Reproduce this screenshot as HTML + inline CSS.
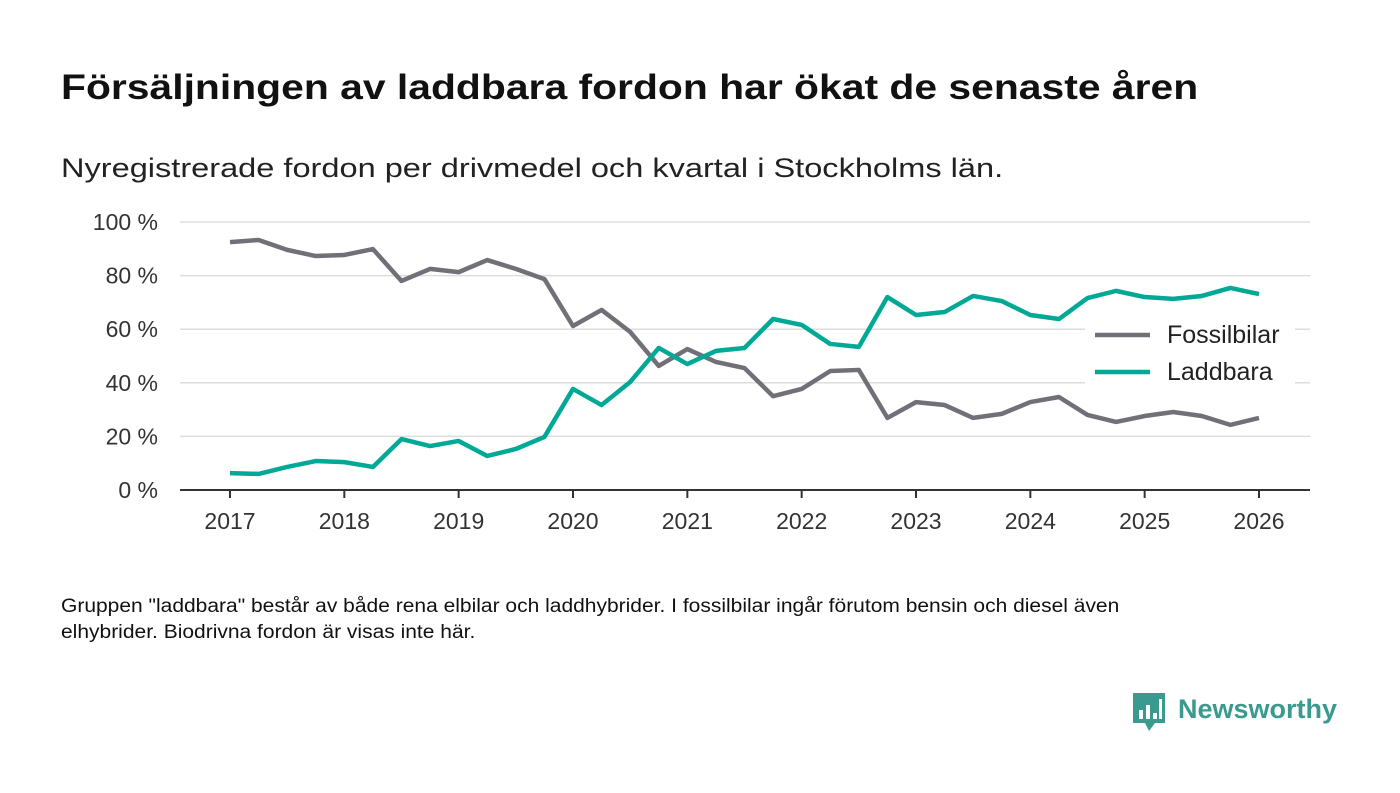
<!DOCTYPE html>
<html><head><meta charset="utf-8">
<style>
body{margin:0;background:#fff;font-family:"Liberation Sans",sans-serif;}
#wrap{position:relative;width:1400px;height:793px;overflow:hidden;}
.t{position:absolute;white-space:nowrap;transform-origin:0 0;}
</style></head>
<body>
<div id="wrap">
<div class="t" style="left:61px;top:68px;font-size:35px;font-weight:bold;color:#111;transform:scaleX(1.167);">Försäljningen av laddbara fordon har ökat de senaste åren</div>
<div class="t" style="left:61px;top:153px;font-size:27px;color:#222;transform:scaleX(1.205);">Nyregistrerade fordon per drivmedel och kvartal i Stockholms län.</div>
<svg id="chart" width="1400" height="793" style="position:absolute;left:0;top:0;"></svg>
<div class="t" style="left:61px;top:594px;font-size:19px;color:#111;line-height:26px;transform:scaleX(1.105);">Gruppen "laddbara" består av både rena elbilar och laddhybrider. I fossilbilar ingår förutom bensin och diesel även<br>elhybrider. Biodrivna fordon är visas inte här.</div>
<div style="position:absolute;left:1133px;top:693px;">
<svg width="34" height="40" style="position:absolute;left:0;top:0;"><path d="M0 0H32V30H22L16 38L12 30H0Z" fill="#3a9a8f"/><rect x="6" y="17" width="4" height="9" fill="#fff"/><rect x="13" y="12" width="4" height="14" fill="#fff"/><rect x="20" y="20" width="4" height="6" fill="#fff"/><rect x="26" y="6" width="3" height="20" fill="#fff"/></svg>
<div class="t" style="left:45px;top:1px;font-size:27px;font-weight:bold;color:#3a9a8f;">Newsworthy</div>
</div>
</div>
<script>
const years=[2017,2018,2019,2020,2021,2022,2023,2024,2025,2026];
const yTicks=[0,20,40,60,80,100];
const fossil=[92.5,93.3,89.6,87.3,87.7,89.9,78,82.5,81.3,85.8,82.5,78.7,61.2,67.2,59,46.3,52.6,47.8,45.5,35,37.7,44.4,44.8,26.9,32.8,31.7,26.9,28.4,32.8,34.7,28,25.4,27.6,29.1,27.6,24.3,26.9];
const laddbara=[6.3,6,8.6,10.8,10.4,8.6,19,16.4,18.3,12.7,15.3,19.8,37.7,31.7,40.3,53,47,51.9,53,63.8,61.6,54.5,53.4,72,65.3,66.4,72.4,70.5,65.3,63.8,71.6,74.3,72,71.3,72.4,75.4,73.1];
const NS="http://www.w3.org/2000/svg";
const svg=document.getElementById('chart');
const x=t=>230+(t-2017)*(1259-230)/9;
const y=v=>490-v*(490-222)/100;
function el(tag,attrs,parent){const e=document.createElementNS(NS,tag);for(const k in attrs)e.setAttribute(k,attrs[k]);(parent||svg).appendChild(e);return e;}
yTicks.forEach(v=>{
 if(v>0){const g=el('line',{x1:180,x2:1310,y1:y(v),y2:y(v),stroke:'#ddd','stroke-width':1.5});
 
 }
 const t=el('text',{x:158,y:y(v)+8,'text-anchor':'end','font-size':23,fill:'#333','font-family':'Liberation Sans'});
 t.textContent=v+' %';
 
 
});
const ax=el('line',{x1:180,x2:1310,y1:490,y2:490,stroke:'#333','stroke-width':2});


years.forEach(yr=>{
 el('line',{x1:x(yr),x2:x(yr),y1:490,y2:498,stroke:'#333','stroke-width':2});
 const t=el('text',{x:x(yr),y:529,'text-anchor':'middle','font-size':23,fill:'#333','font-family':'Liberation Sans'});
 t.textContent=yr;
 
 
});
function series(data,color,name){
 const d=data.map((v,i)=>(i?'L':'M')+x(2017+i*0.25)+' '+y(v)).join(' ');
 const p=el('path',{d:d,fill:'none',stroke:color,'stroke-width':4.5,'stroke-linejoin':'round'});
 
 
}
series(fossil,'#717078','fossilbilar-line');
series(laddbara,'#00a896','laddbara-line');
const lg=el('rect',{x:1085,y:316,width:210,height:76,fill:'#fff'});


[['Fossilbilar','#717078',335],['Laddbara','#00a896',372]].forEach(([n,c,yy])=>{
 el('line',{x1:1095,x2:1150,y1:yy,y2:yy,stroke:c,'stroke-width':4.5});
 const t=el('text',{x:1167,y:yy+8,'font-size':25,fill:'#222','font-family':'Liberation Sans'});
 t.textContent=n;
 
 
});
</script>
</body></html>
